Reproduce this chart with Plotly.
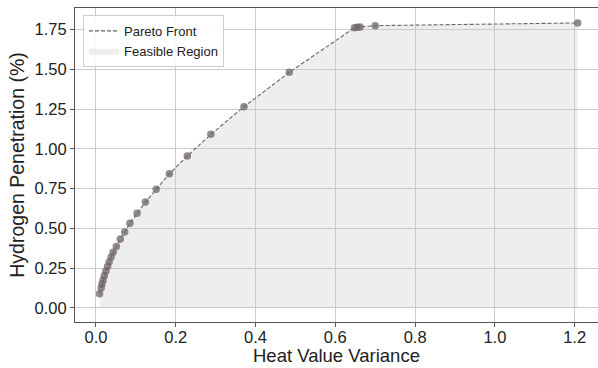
import plotly.graph_objects as go

# Pareto front points (Heat Value Variance, Hydrogen Penetration %)
variance = [0.009, 0.013, 0.015, 0.018, 0.021, 0.025, 0.029, 0.033, 0.038, 0.043,
            0.051, 0.061, 0.072, 0.085, 0.103, 0.124, 0.151, 0.184, 0.229, 0.288,
            0.371, 0.4845, 0.648, 0.655, 0.662, 0.700, 1.2075]
penetration = [0.088, 0.124, 0.149, 0.174, 0.203, 0.231, 0.259, 0.288, 0.319, 0.349,
               0.386, 0.432, 0.476, 0.531, 0.594, 0.665, 0.745, 0.843, 0.955, 1.091,
               1.265, 1.481, 1.762, 1.765, 1.767, 1.775, 1.792]

x_ticks = [0.0, 0.2, 0.4, 0.6, 0.8, 1.0, 1.2]
x_tick_labels = ["0.0", "0.2", "0.4", "0.6", "0.8", "1.0", "1.2"]
y_ticks = [0.0, 0.25, 0.5, 0.75, 1.0, 1.25, 1.5, 1.75]
y_tick_labels = ["0.00", "0.25", "0.50", "0.75", "1.00", "1.25", "1.50", "1.75"]

FONT = "Liberation Sans, Arial, sans-serif"

fig = go.Figure()

fig.add_trace(go.Scatter(
    x=variance, y=penetration, mode="lines", fill="tozeroy",
    fillcolor="rgba(200,200,200,0.3)", line=dict(width=0, color="rgba(0,0,0,0)"),
    name="Feasible Region", legendrank=2, hoverinfo="skip",
))
fig.add_trace(go.Scatter(
    x=variance, y=penetration, mode="lines",
    line=dict(color="#6e6464", width=1.1, dash="4px,2px"),
    name="Pareto Front", legendrank=1,
))
fig.add_trace(go.Scatter(
    x=variance, y=penetration, mode="markers",
    marker=dict(size=7.5, color="rgba(110,100,100,0.75)", line=dict(width=0)),
    showlegend=False,
))

axis_common = dict(
    showgrid=True, gridcolor="#cccccc", gridwidth=1,
    showline=True, linecolor="#555555", linewidth=1, mirror=True,
    ticks="outside", ticklen=4, tickcolor="#555555",
    tickfont=dict(family=FONT, size=16.5, color="#222222"),
    zeroline=False,
)

fig.update_xaxes(
    **axis_common, range=[-0.0526, 1.2585],
    tickvals=x_ticks, ticktext=x_tick_labels, ticklabelstandoff=-4,
)
fig.update_yaxes(
    **axis_common, range=[-0.0895, 1.886],
    tickvals=y_ticks, ticktext=y_tick_labels,
    title=dict(text="Hydrogen Penetration (%)", font=dict(family=FONT, size=19.5, color="#222222"), standoff=4),
)

fig.add_annotation(
    text="Heat Value Variance", xref="paper", yref="paper",
    x=0.5, y=-0.108, xanchor="center", yanchor="middle", showarrow=False,
    font=dict(family=FONT, size=18.5, color="#222222"),
)

fig.update_layout(
    width=598, height=368,
    margin=dict(l=75, r=0, t=8, b=46),
    paper_bgcolor="white", plot_bgcolor="white",
    font=dict(family=FONT),
    legend=dict(
        x=0.0153, y=0.978, xanchor="left", yanchor="top",
        bgcolor="rgba(255,255,255,0.85)", bordercolor="#cccccc", borderwidth=1,
        font=dict(family=FONT, size=13, color="#222222"),
        tracegroupgap=0, itemwidth=30,
    ),
)

fig.write_html("out.html")
